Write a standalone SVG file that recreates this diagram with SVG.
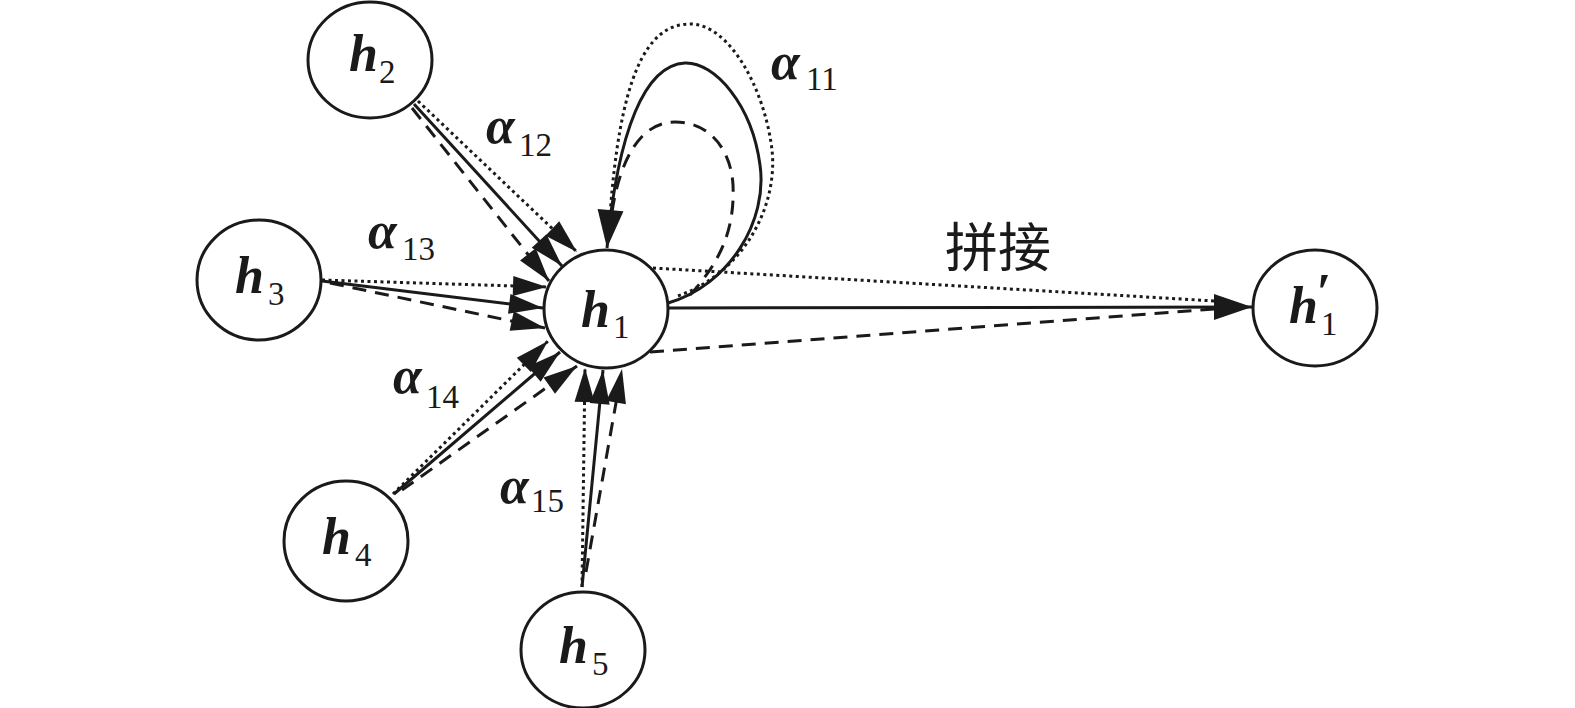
<svg xmlns="http://www.w3.org/2000/svg" width="1575" height="708" viewBox="0 0 1575 708">
<style>
.node{fill:#fff;stroke:#1a1a1a;stroke-width:3}
.e{fill:none;stroke:#1a1a1a;stroke-width:3}
.dot{stroke-dasharray:3 3.5}
.dash{stroke-dasharray:14 9}
.h{font-family:"Liberation Serif",serif;font-weight:bold;font-style:italic;font-size:52px;fill:#1a1a1a}
.s{font-family:"Liberation Serif",serif;font-weight:normal;font-style:normal;font-size:33px;fill:#1a1a1a}
.cn{font-family:"Noto Sans CJK SC",sans-serif;font-size:53px;fill:#1a1a1a}
</style>
<defs>
<marker id="arr" markerUnits="userSpaceOnUse" markerWidth="36" markerHeight="22" refX="34" refY="10" orient="auto" overflow="visible">
<path d="M0,0 L34,10 L0,20 z" fill="#1a1a1a"/>
</marker>
<marker id="big" markerUnits="userSpaceOnUse" markerWidth="40" markerHeight="28" refX="38" refY="13" orient="auto" overflow="visible">
<path d="M0,0 L38,13 L0,26 z" fill="#1a1a1a"/>
</marker>
</defs>
<g id="connectors">
<path class="e dot" d="M418,101 L577,252" marker-end="url(#arr)"/>
<path class="e" d="M414,104 L562,266" marker-end="url(#arr)"/>
<path class="e dash" d="M412,108 L549,281" marker-end="url(#arr)"/>
<path class="e dot" d="M322,280 L547,287" marker-end="url(#arr)"/>
<path class="e" d="M322,281 L543,308" marker-end="url(#arr)"/>
<path class="e dash" d="M330,283 L545,328" marker-end="url(#arr)"/>
<path class="e dot" d="M393,494 L548,341" marker-end="url(#arr)"/>
<path class="e" d="M394,494 L560,352" marker-end="url(#arr)"/>
<path class="e dash" d="M402,490 L577,366" marker-end="url(#arr)"/>
<path class="e dot" d="M582,587 L585,368" marker-end="url(#arr)"/>
<path class="e" d="M582,587 L603,370" marker-end="url(#arr)"/>
<path class="e dash" d="M586,572 L622,369" marker-end="url(#arr)"/>
<path class="e dot" d="M678,296 C745,272 778,205 772,150 C765,90 730,24 690,24 C645,24 620,80 610,215"/>
<path class="e dash" d="M690,295 C720,262 735,230 733,185 C731,150 710,122 675,122 C640,122 620,160 612,212"/>
<path class="e" d="M668,303 C730,285 768,220 760,165 C752,105 715,62 685,63 C645,65 618,130 607,248" marker-end="url(#big)"/>
<path class="e dot" d="M653,268 L1215,301"/>
<path class="e dash" d="M650,352 L1215,309"/>
<path class="e" d="M669,308 L1252,307" marker-end="url(#big)"/>
</g>
<g id="n1"><ellipse class="node" cx="606" cy="309" rx="62" ry="59"/><text class="h" x="581" y="327">h<tspan class="s" x="613" y="338">1</tspan></text></g>
<g id="n2"><ellipse class="node" cx="370" cy="60" rx="62" ry="58"/><text class="h" x="349" y="71">h<tspan class="s" x="379" y="83">2</tspan></text></g>
<g id="n3"><ellipse class="node" cx="259" cy="280" rx="62" ry="60"/><text class="h" x="235" y="293">h<tspan class="s" x="268" y="305">3</tspan></text></g>
<g id="n4"><ellipse class="node" cx="346" cy="541" rx="62" ry="60"/><text class="h" x="322" y="554">h<tspan class="s" x="355" y="566">4</tspan></text></g>
<g id="n5"><ellipse class="node" cx="583" cy="650" rx="62" ry="58"/><text class="h" x="559" y="663">h<tspan class="s" x="592" y="675">5</tspan></text></g>
<g id="n1p"><ellipse class="node" cx="1315" cy="308" rx="62" ry="58"/><text class="h" x="1289" y="323">h<tspan x="1316" y="310">′</tspan><tspan class="s" x="1321" y="335">1</tspan></text></g>
<g id="labels">
<text class="h" x="771" y="79">α<tspan class="s" x="806" y="90">11</tspan></text>
<text class="h" x="486" y="143">α<tspan class="s" x="519" y="156">12</tspan></text>
<text class="h" x="368" y="248">α<tspan class="s" x="402" y="260">13</tspan></text>
<text class="h" x="393" y="393">α<tspan class="s" x="426" y="408">14</tspan></text>
<text class="h" x="500" y="503">α<tspan class="s" x="531" y="512">15</tspan></text>
<text class="cn" x="945" y="267">拼接</text>
</g>
</svg>
